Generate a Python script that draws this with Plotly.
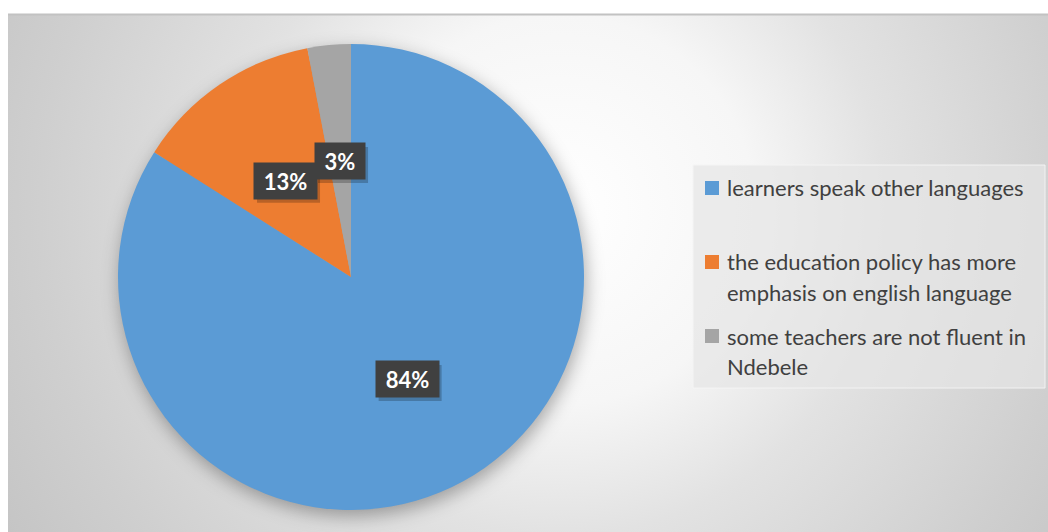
import math
import base64
import plotly.graph_objects as go

# ---- data ----
categories = [
    "learners speak other languages",
    "the education policy has more<br>emphasis on english language",
    "some teachers are not fluent in<br>Ndebele",
]
values = [84, 13, 3]
colors = ["#5B9BD5", "#ED7D31", "#A5A5A5"]

# ---- geometry (pixels) ----
W, H = 1048, 532
CX, CY, R = 351, 277, 233
FONT = "Lato, 'Open Sans', sans-serif"

dom_x = [(CX - R) / W, (CX + R) / W]
dom_y = [1 - (CY + R) / H, 1 - (CY - R) / H]

svg = f'''<svg xmlns="http://www.w3.org/2000/svg" width="{W}" height="{H}" viewBox="0 0 {W} {H}">
<defs>
<radialGradient id="g" gradientUnits="userSpaceOnUse" cx="560" cy="210" r="650">
<stop offset="0" stop-color="#ffffff"/>
<stop offset="0.3" stop-color="#f6f6f6"/>
<stop offset="0.5" stop-color="#e2e2e2"/>
<stop offset="0.8" stop-color="#cfcfcf"/>
<stop offset="1" stop-color="#c4c4c4"/>
</radialGradient>
<filter id="b" x="-50%" y="-50%" width="200%" height="200%"><feGaussianBlur stdDeviation="9"/></filter>
</defs>
<rect width="{W}" height="{H}" fill="#ffffff"/>
<rect x="8" y="14" width="{W-8}" height="{H-14}" fill="url(#g)"/>
<line x1="8" y1="14.5" x2="{W}" y2="14.5" stroke="#c2c2c2" stroke-width="2"/>
<circle cx="{CX+2}" cy="{CY+6}" r="{R}" fill="#000" fill-opacity="0.32" filter="url(#b)"/>
</svg>'''
uri = "data:image/svg+xml;base64," + base64.b64encode(svg.encode()).decode()

fig = go.Figure(go.Pie(
    labels=[c.replace("<br>", " ") for c in categories],
    values=values,
    marker=dict(colors=colors, line=dict(width=0)),
    sort=False,
    direction="clockwise",
    rotation=0,
    textinfo="none",
    domain=dict(x=dom_x, y=dom_y),
    showlegend=False,
))

annotations = []
shapes = []
total = sum(values)
cum = 0
for v in values:
    mid = (cum + v / 2) / total * 2 * math.pi
    cum += v
    px = CX + 0.5 * R * math.sin(mid)
    py = CY - 0.5 * R * math.cos(mid)
    label = f"{round(v / total * 100)}%"
    bw = 13 * len(label) + 18
    ax, ay = px / W, 1 - py / H
    # drop shadow of the label box
    shapes.append(dict(type="rect", xref="paper", yref="paper", xsizemode="pixel", ysizemode="pixel",
                       xanchor=ax, yanchor=ay,
                       x0=-(bw + 6) / 2 + 3, x1=(bw + 6) / 2 + 3, y0=-18 - 4, y1=18 - 4,
                       fillcolor="rgba(0,0,0,0.22)", line=dict(width=0), layer="above"))
    annotations.append(dict(text=f"<b>{label}</b>", x=ax, y=ay, xref="paper", yref="paper",
                            xanchor="center", yanchor="middle", showarrow=False,
                            width=bw, height=30, borderpad=3, bgcolor="#404040",
                            font=dict(family=FONT, size=22, color="white")))

# ---- legend (drawn manually to match spacing) ----
LX0, LX1, LY0, LY1 = 693, 1045, 165, 388
shapes.append(dict(type="rect", xref="paper", yref="paper",
                   x0=LX0 / W, x1=LX1 / W, y0=1 - LY1 / H, y1=1 - LY0 / H,
                   fillcolor="rgba(230,230,230,0.7)", line=dict(color="rgba(245,245,245,0.9)", width=1),
                   layer="below"))
for i, (cat, col) in enumerate(zip(categories, colors)):
    y0 = 188 + 74 * i
    shapes.append(dict(type="rect", xref="paper", yref="paper",
                       x0=705 / W, x1=719 / W, y0=1 - (y0 + 7) / H, y1=1 - (y0 - 7) / H,
                       fillcolor=col, line=dict(width=0)))
    for j, line in enumerate(cat.split("<br>")):
        annotations.append(dict(text=line, x=725 / W, y=1 - (y0 + 30 * j) / H,
                                xref="paper", yref="paper", xanchor="left", yanchor="middle",
                                showarrow=False,
                                font=dict(family=FONT, size=22, color="#404040")))

fig.update_layout(
    width=W, height=H,
    margin=dict(l=0, r=0, t=0, b=0),
    paper_bgcolor="white",
    plot_bgcolor="rgba(0,0,0,0)",
    font=dict(family=FONT),
    images=[dict(source=uri, xref="paper", yref="paper", x=0, y=1, sizex=1, sizey=1,
                 sizing="stretch", xanchor="left", yanchor="top", layer="below")],
    annotations=annotations,
    shapes=shapes,
)

fig.write_html("out.html")
